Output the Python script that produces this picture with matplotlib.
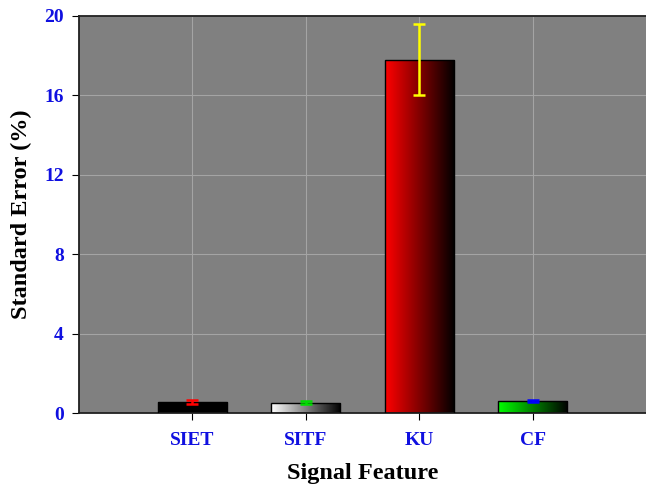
import numpy as np
import matplotlib
matplotlib.use('Agg')
from matplotlib import pyplot as plt
from matplotlib.colors import LinearSegmentedColormap

plt.rcParams['font.family'] = ['Liberation Serif', 'DejaVu Serif']
plt.rcParams['font.weight'] = 'bold'

features = ['SIET', 'SITF', 'KU', 'CF']
std_error = [0.55, 0.52, 17.8, 0.59]
err = [0.1, 0.08, 1.8, 0.04]
err_colors = ['red', '#00dd00', 'yellow', 'blue']
# left / right colour of each bar's horizontal gradient
grad_colors = [('black', 'black'), ('white', 'black'), ('red', 'black'), ('#00ff00', 'black')]
yticks = [0, 4, 8, 12, 16, 20]

fig = plt.figure(figsize=(6.46, 4.86), dpi=100)
ax = fig.add_axes([79 / 646, (486 - 413) / 486, (646 - 79) / 646, (413 - 16) / 486])
ax.set_facecolor('#808080')

x = np.arange(1, len(features) + 1)
width = 0.61
bars = ax.bar(x, std_error, width=width, color='none', edgecolor='black', linewidth=1.0, zorder=3)

# fill each bar with a left-to-right gradient clipped to the bar
grad = np.linspace(0, 1, 256).reshape(1, -1)
for b, (c0, c1) in zip(bars, grad_colors):
    cmap = LinearSegmentedColormap.from_list('g', [c0, c1])
    x0, y0 = b.get_x(), b.get_y()
    im = ax.imshow(grad, cmap=cmap, aspect='auto', zorder=2,
                   extent=[x0, x0 + b.get_width(), y0, y0 + b.get_height()])
    im.set_clip_path(b)

for xi, v, e, c in zip(x, std_error, err, err_colors):
    ax.errorbar(xi, v, yerr=e, color=c, capsize=4.5, elinewidth=1.8, capthick=1.8, zorder=4)

ax.set_xlim(0, 5)
ax.set_ylim(0, 20)
ax.set_xticks(x)
ax.set_xticklabels(features)
ax.set_yticks(yticks)
ax.grid(True, color='#a4a4a4', linewidth=0.8, zorder=1)
ax.set_axisbelow(True)

ax.tick_params(axis='x', direction='out', length=5, pad=9, labelsize=14, labelcolor='#1010e0')
ax.tick_params(axis='y', direction='out', length=5, pad=6, labelsize=14, labelcolor='#1010e0')
for lbl in ax.get_xticklabels() + ax.get_yticklabels():
    lbl.set_fontweight('bold')

for s in ['top', 'left', 'bottom']:
    ax.spines[s].set_linewidth(1.3)
    ax.spines[s].set_color('#202020')
ax.spines['right'].set_visible(False)

ax.set_ylabel('Standard Error (%)', fontsize=17.5, fontweight='bold', labelpad=9)
ax.set_xlabel('Signal Feature', fontsize=17.5, fontweight='bold', labelpad=10)

fig.savefig('out.png', dpi=100)
